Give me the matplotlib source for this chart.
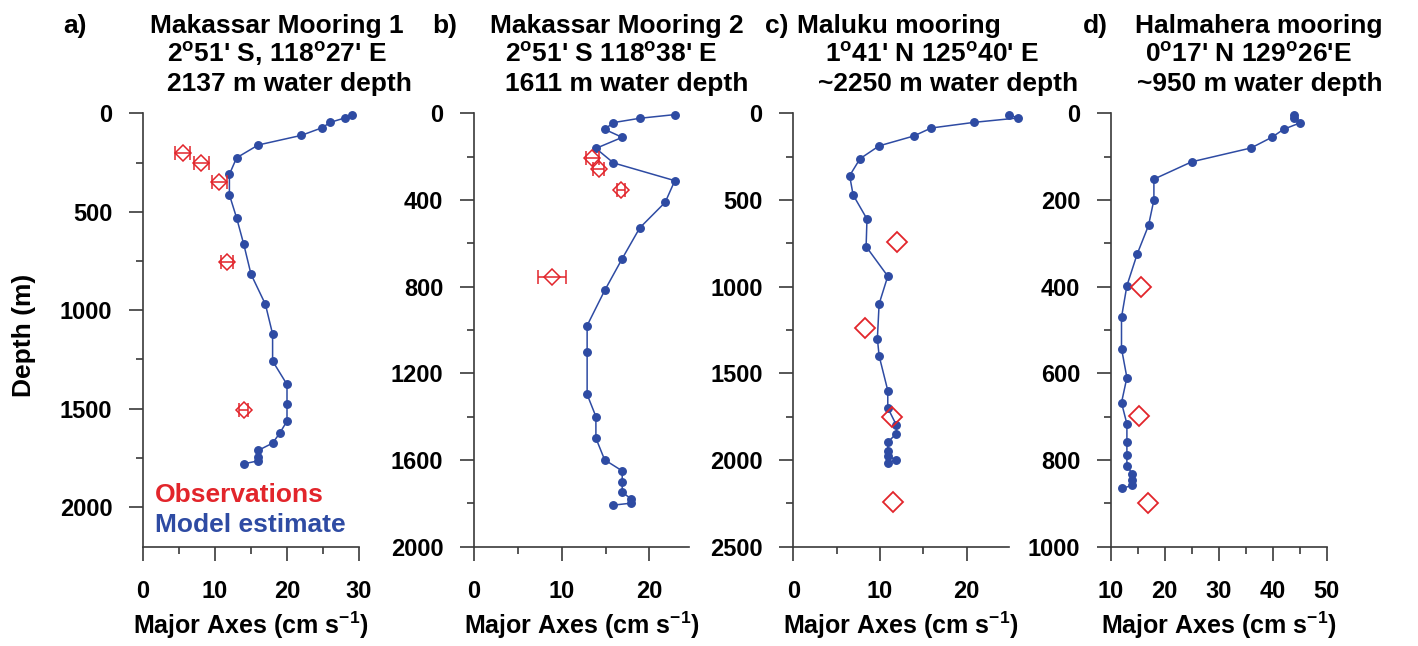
import matplotlib
matplotlib.use("Agg")
import matplotlib.pyplot as plt
from matplotlib.ticker import MultipleLocator

plt.rcParams['font.family'] = ['Liberation Sans', 'DejaVu Sans']
plt.rcParams['font.weight'] = 'bold'
plt.rcParams['mathtext.fontset'] = 'custom'
plt.rcParams['mathtext.rm'] = 'Liberation Sans:bold'
plt.rcParams['mathtext.bf'] = 'Liberation Sans:bold'
plt.rcParams['mathtext.it'] = 'Liberation Sans:bold'

# ---------------- data ----------------
a_model_x = [29.0, 28.0, 26.0, 24.9, 22.0, 16.0, 13.0, 12.0, 12.0, 13.0, 14.0, 15.0,
             17.0, 18.0, 18.0, 20.0, 20.0, 20.0, 19.0, 18.0, 16.0, 16.0, 16.0, 14.0]
a_model_depth = [8, 24, 46, 73, 112, 161, 226, 310, 414, 531, 666, 817,
                 970, 1121, 1258, 1377, 1478, 1563, 1624, 1675, 1712, 1743, 1765, 1780]
a_obs_x = [5.5, 8.1, 10.6, 11.7, 14.0]
a_obs_depth = [200, 251, 351, 753, 1506]
a_obs_err = [1.0, 1.0, 1.0, 0.8, 0.6]

b_model_x = [22.9, 18.9, 15.9, 14.9, 16.9, 13.9, 15.9, 22.9, 21.8, 18.9, 16.9, 14.9,
             12.9, 12.9, 12.9, 13.9, 13.9, 14.9, 16.9, 16.9, 16.9, 17.9, 17.9, 15.9]
b_model_depth = [6, 23, 43, 74, 111, 162, 229, 311, 411, 529, 671, 818,
                 980, 1102, 1298, 1400, 1500, 1600, 1651, 1700, 1749, 1780, 1800, 1809]
b_obs_x = [13.5, 14.2, 16.8, 8.9]
b_obs_depth = [205, 257, 354, 754]
b_obs_err = [0.72, 0.6, 0.45, 1.6]

c_model_x = [24.9, 25.9, 20.9, 15.9, 13.9, 9.9, 7.7, 6.5, 6.9, 8.5, 8.4, 10.9,
             9.9, 9.7, 9.9, 10.9, 10.9, 11.9, 11.9, 10.9, 10.9, 10.9, 11.9, 10.9]
c_model_depth = [8, 27, 52, 85, 131, 188, 262, 360, 471, 610, 769, 940,
                 1100, 1300, 1400, 1600, 1700, 1800, 1848, 1898, 1948, 1979, 2000, 2017]
c_obs_x = [12.0, 8.3, 11.4, 11.5]
c_obs_depth = [740, 1240, 1750, 2242]

d_model_x = [44.0, 44.0, 45.1, 42.0, 39.9, 36.0, 25.0, 18.0, 18.0, 17.0, 14.9, 13.0,
             12.0, 12.0, 13.0, 12.0, 13.0, 13.0, 13.0, 13.0, 14.0, 14.0, 14.0, 12.0]
d_model_depth = [3, 12, 22, 37, 55, 80, 112, 152, 200, 259, 325, 398,
                 471, 543, 610, 668, 717, 758, 789, 814, 832, 846, 859, 866]
d_obs_x = [15.7, 15.2, 16.9]
d_obs_depth = [400, 698, 900]

panel_letters = ['a)', 'b)', 'c)', 'd)']
titles_line1 = ['Makassar Mooring 1', 'Makassar Mooring 2', 'Maluku mooring', 'Halmahera mooring']
titles_line2 = [r"2$^{\mathrm{o}}$51' S, 118$^{\mathrm{o}}$27' E",
                r"2$^{\mathrm{o}}$51' S 118$^{\mathrm{o}}$38' E",
                r"1$^{\mathrm{o}}$41' N 125$^{\mathrm{o}}$40' E",
                r"0$^{\mathrm{o}}$17' N 129$^{\mathrm{o}}$26'E"]
titles_line3 = ['2137 m water depth', '1611 m water depth', '~2250 m water depth', '~950 m water depth']
xlabel_text = r"Major Axes (cm s$^{\mathrm{-1}}$)"
ylabel_text = 'Depth (m)'
legend_obs = 'Observations'
legend_model = 'Model estimate'

# ---------------- styling ----------------
W, H = 1418, 646
RED = '#e2252b'
BLUE = '#2e4ba3'
AXC = '#3a3a3a'

fig = plt.figure(figsize=(W / 100, H / 100), dpi=100)

def add_ax(left, right, top=113.3, bottom=546.5):
    return fig.add_axes([left / W, (H - bottom) / H, (right - left) / W, (bottom - top) / H])

axa = add_ax(143, 359)
axb = add_ax(474, 689.3)
axc = add_ax(793.3, 1008.7)
axd = add_ax(1110.7, 1326.7)

cfg = [
    (axa, (0, 30), (0, 2200), 10, 5, 500, 250),
    (axb, (0, 24.55), (0, 2000), 10, 5, 400, 200),
    (axc, (0, 24.85), (0, 2500), 10, 5, 500, 250),
    (axd, (10, 50), (0, 1000), 10, 5, 200, 100),
]
for ax, xl, yl, xmaj, xmin, ymaj, ymin in cfg:
    ax.set_xlim(*xl)
    ax.set_ylim(yl[1], yl[0])
    ax.xaxis.set_major_locator(MultipleLocator(xmaj))
    ax.xaxis.set_minor_locator(MultipleLocator(xmin))
    ax.yaxis.set_major_locator(MultipleLocator(ymaj))
    ax.yaxis.set_minor_locator(MultipleLocator(ymin))
    for s in ['top', 'right']:
        ax.spines[s].set_visible(False)
    for s in ['left', 'bottom']:
        ax.spines[s].set_color(AXC)
        ax.spines[s].set_linewidth(1.2)
    ax.tick_params(which='major', direction='out', length=10, width=1.2, color=AXC,
                   labelsize=17)
    ax.tick_params(which='minor', direction='out', length=5, width=1.2, color=AXC)
    ax.tick_params(axis='x', which='major', pad=14)
    ax.tick_params(axis='y', which='major', pad=12)
    for lab in ax.get_xticklabels() + ax.get_yticklabels():
        lab.set_fontweight('bold')
    ax.set_xlabel(xlabel_text, fontsize=18, fontweight='bold', labelpad=5)
    ax.patch.set_alpha(0)

# model lines
for ax, mx, md in [(axa, a_model_x, a_model_depth), (axb, b_model_x, b_model_depth),
                   (axc, c_model_x, c_model_depth), (axd, d_model_x, d_model_depth)]:
    ax.plot(mx, md, '-o', color=BLUE, lw=1.1, ms=5.4, mec=BLUE, mfc=BLUE, clip_on=False, zorder=3)

# observations with error bars
for ax, ox, od, oe in [(axa, a_obs_x, a_obs_depth, a_obs_err), (axb, b_obs_x, b_obs_depth, b_obs_err)]:
    ax.errorbar(ox, od, xerr=oe, fmt='D', ms=8, mfc='none', mec=RED, mew=1.1,
                ecolor=RED, elinewidth=1.1, capsize=5, capthick=1.1, clip_on=False, zorder=4)

for ax, ox, od in [(axc, c_obs_x, c_obs_depth), (axd, d_obs_x, d_obs_depth)]:
    ax.plot(ox, od, 'D', ms=10, mfc='none', mec=RED, mew=1.3, clip_on=False, zorder=4)

# y label
fig.text(24 / W, 1 - 335 / H, ylabel_text, rotation=90, fontsize=19, fontweight='bold',
         ha='center', va='center')

# legend text inside panel a
fig.text(155 / W, 1 - 502 / H, legend_obs, color=RED, fontsize=19, fontweight='bold', va='baseline')
fig.text(155 / W, 1 - 532 / H, legend_model, color=BLUE, fontsize=19, fontweight='bold', va='baseline')

# titles
letter_x = [63, 432, 765, 1083]
l1_x = [150, 490, 797, 1135]
l2_x = [167, 505, 825, 1145]
l3_x = [167, 505, 818, 1137]
base_y = [33, 62, 91]
for i in range(4):
    fig.text(letter_x[i] / W, 1 - base_y[0] / H, panel_letters[i], fontsize=19, fontweight='bold', va='baseline')
    fig.text(l1_x[i] / W, 1 - base_y[0] / H, titles_line1[i], fontsize=19, fontweight='bold', va='baseline')
    fig.text(l2_x[i] / W, 1 - base_y[1] / H, titles_line2[i], fontsize=19, fontweight='bold', va='baseline')
    fig.text(l3_x[i] / W, 1 - base_y[2] / H, titles_line3[i], fontsize=19, fontweight='bold', va='baseline')

fig.savefig('out.png', dpi=100)
